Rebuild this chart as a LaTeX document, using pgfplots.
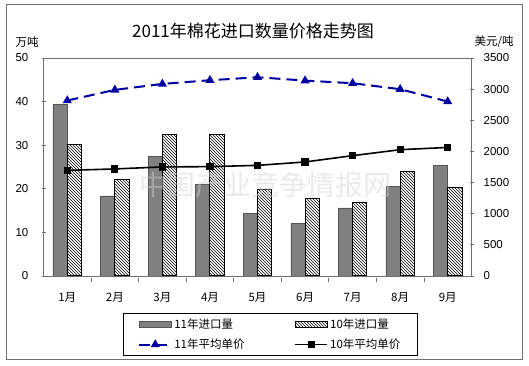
\documentclass[border=0pt]{standalone}
\usepackage{fontspec}
\setmainfont{Liberation Sans}
\newfontfamily\cjk{Noto Sans CJK SC}
\usepackage{pgfplots}
\pgfplotsset{compat=1.18}
\usetikzlibrary{patterns}

\definecolor{bargray}{HTML}{808080}
\definecolor{bardark}{HTML}{555555}
\definecolor{navy}{HTML}{0000A0}
\definecolor{axgray}{HTML}{707070}

\pgfplotstableread{
x d11 d10 p11 p10
0 39.3 30.2 2817 1696
1 18.4 22.1 2988 1719
2 27.5 32.4 3084 1751
3 21.0 32.4 3143 1756
4 14.3 19.8 3191 1776
5 12.0 17.8 3137 1831
6 15.6 16.8 3095 1932
7 20.5 23.9 2999 2028
8 25.3 20.2 2801 2064
}\data

\pgfplotsset{
 barleg/.style={legend image code/.code={\draw[##1] (0pt,-3pt) rectangle (32pt,3pt);}},
 lineleg/.style={legend image code/.code={\draw[mark repeat=2,mark phase=2,##1] plot coordinates {(0pt,0pt) (16pt,0pt) (32pt,0pt)};}},
 common/.style={at={(43.5pt,90pt)}, anchor=south west, scale only axis,
   width=428pt, height=218pt, xmin=-0.5, xmax=8.5, ymin=0, enlargelimits=false,
   tick label style={font=\fontsize{11.5}{12}\selectfont},
   /pgf/number format/assume math mode=true, /pgf/number format/1000 sep={},
   axis line style={draw=axgray, line width=0.8pt},
   tick style={draw=axgray, line width=0.8pt},
   major tick length=4pt},
 bar11/.style={fill=bargray, draw=bardark, line width=0.5pt},
 bar10/.style={fill=white, draw=black, line width=1pt, postaction={pattern=north west lines}},
 line11/.style={navy, line width=2pt, dash pattern=on 11pt off 6pt, mark=triangle*, mark size=3.3pt, mark options={solid, fill=navy}},
 line10/.style={black, line width=1.6pt, mark=square*, mark size=2.8pt, mark options={solid, fill=black}},
}

\begin{document}
\begin{tikzpicture}
\path[use as bounding box, fill=white] (0pt,0pt) rectangle (529pt,366pt);
\draw[axgray, line width=1pt] (6pt,6pt) rectangle (522pt,361pt);

\begin{axis}[common, ymax=50, ytick={0,10,...,50}, ytick pos=left,
  tick align=center,
  yticklabel style={inner sep=0pt, xshift=-13pt},
  xtick={0.5,1.5,...,7.5}, xticklabels={}, xtick pos=bottom,
  x tick style={yshift=-2pt},
  extra x ticks={0,1,...,8},
  extra x tick labels={1月,2月,3月,4月,5月,6月,7月,8月,9月},
  extra x tick style={major tick length=0pt, tick label style={font=\cjk\fontsize{11.5}{12}\selectfont, inner sep=0pt, yshift=-16pt}},
  ybar=0pt, bar width=14.3pt]
\addplot[bar11] table[x=x, y=d11] {\data};
\addplot[bar10] table[x=x, y=d10] {\data};
\end{axis}

\begin{axis}[common, ymax=3500, ytick={0,500,...,3500},
  axis y line*=right, axis x line=none, tick align=center,
  yticklabel style={inner sep=0pt, xshift=10pt},
  legend columns=2,
  legend style={at={(0.530,-0.268)}, anchor=center, draw=black, line width=0.6pt,
    font=\cjk\fontsize{11.5}{12}\selectfont, inner xsep=15pt, inner ysep=3pt,
    row sep=5pt, /tikz/every even column/.append style={column sep=48pt}},
  legend cell align=left]
\addlegendimage{barleg, bar11}
\addlegendentry{11年进口量}
\addlegendimage{barleg, bar10}
\addlegendentry{10年进口量}
\addplot[line11, lineleg] table[x=x, y=p11] {\data};
\addlegendentry{11年平均单价}
\addplot[line10, lineleg] table[x=x, y=p10] {\data};
\addlegendentry{10年平均单价}
\end{axis}

\node[font=\cjk\fontsize{17}{18}\selectfont] at (253pt,335pt) {2011年棉花进口数量价格走势图};
\node[font=\cjk\fontsize{11.5}{12}\selectfont] at (27pt,324pt) {万吨};
\node[font=\cjk\fontsize{11.5}{12}\selectfont] at (494pt,324pt) {美元/吨};
\node[font=\cjk\fontsize{28}{30}\selectfont, text=gray!35, opacity=0.45] at (265pt,181pt) {中国产业竞争情报网};
\end{tikzpicture}
\end{document}
